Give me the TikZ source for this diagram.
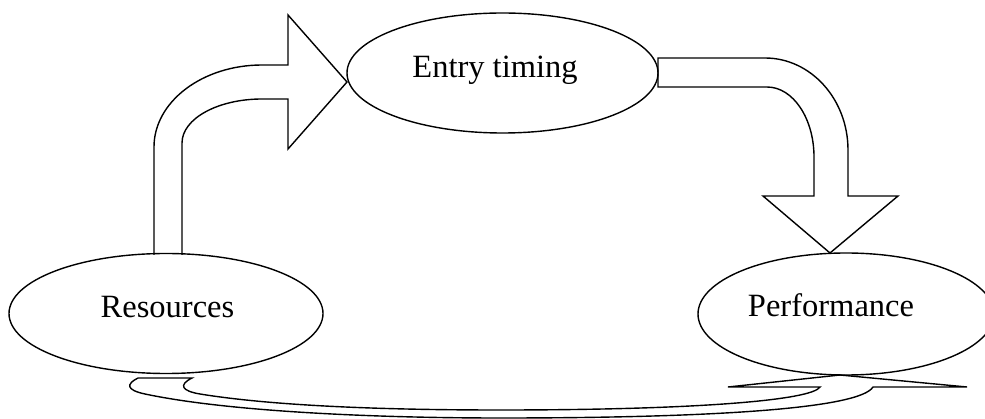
\documentclass[tikz,border=0pt]{standalone}
\usepackage{fontspec}
\setmainfont{Liberation Serif}
\usetikzlibrary{shapes.geometric}
\begin{document}
\begin{tikzpicture}[x=1pt,y=-1pt,
  ln/.style={draw=black,line width=1.4pt,line join=miter},
  oval/.style={ellipse,draw=black,line width=1.4pt,inner sep=0pt},
  lbl/.style={anchor=base,inner sep=0pt,font=\fontsize{32.5}{39}\selectfont}]
\useasboundingbox (0,0) rectangle (985,419);
% ellipses
\node[oval,minimum width=314pt,minimum height=120pt] (res) at (166,313.5) {};
\node[oval,minimum width=311pt,minimum height=120pt] (ent) at (502.5,73) {};
\node[oval,minimum width=296pt,minimum height=122pt] (perf) at (846,314) {};
% labels
\node[lbl] (resT) at (167.5,318) {Resources};
\node[lbl] (entT) at (495,78) {Entry timing};
\node[lbl] (perfT) at (831,317) {Performance};
% arrow Resources -> Entry timing
\coordinate (a1tip) at (347,82);
\draw[ln] (154,255) -- (154,147) .. controls (154,101.7) and (202.4,65) .. (262,65)
  -- (288,65) -- (288,15) -- (a1tip) -- (288,149) -- (288,99) -- (262,99)
  .. controls (217.8,99) and (182,118.7) .. (182,143) -- (182,255);
% arrow Entry timing -> Performance
\coordinate (a2tip) at (830,253);
\draw[ln] (658,58) -- (765,58) .. controls (810.8,58) and (848,99.2) .. (848,150)
  -- (848,196) -- (898,196) -- (a2tip) -- (763,196) -- (814,196) -- (814,157)
  .. controls (814,118.4) and (793,87) .. (767,87) -- (658,87) -- cycle;
% arrow Resources -> Performance (bottom)
\coordinate (a3tip) at (840,375);
\draw[ln] (138,378) -- (192,378)
  .. controls (178,385) and (182,391) .. (200,394)
  .. controls (280,407) and (400,410) .. (500,410)
  .. controls (700,410) and (812,400) .. (820,387)
  -- (728,387) -- (a3tip) -- (967,387) -- (873,387)
  .. controls (860,408) and (720,418) .. (500,418)
  .. controls (380,418) and (230,412) .. (145,394)
  .. controls (126,390) and (126,384) .. (138,378);
\end{tikzpicture}
\end{document}
